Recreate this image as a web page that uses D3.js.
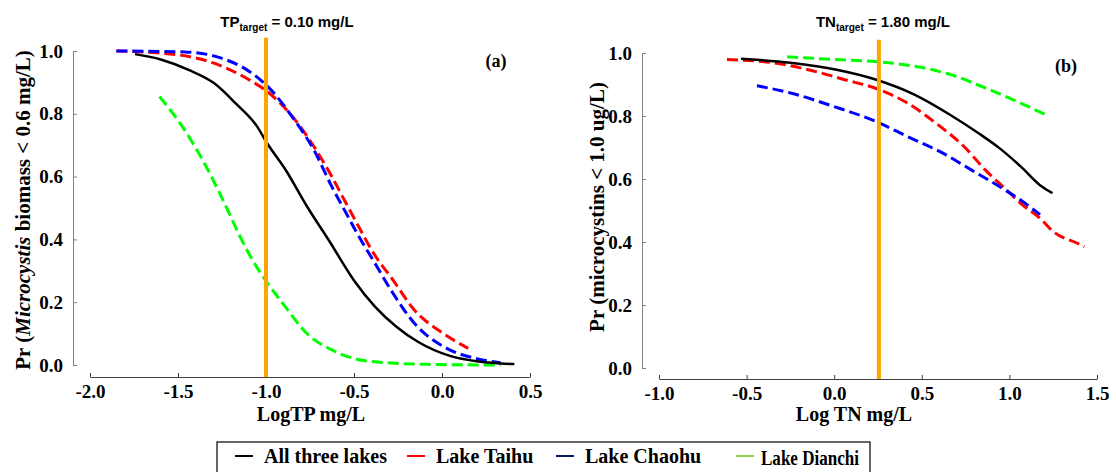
<!DOCTYPE html>
<html lang="en">
<head>
<meta charset="UTF-8">
<title>Probability of meeting targets</title>
<script src="https://d3js.org/d3.v7.min.js"></script>
<style>
    body { margin: 0; background: #fff; }
    svg text { font-family: "Liberation Serif", "Times New Roman", serif; font-weight: bold; fill: #000; }
    .title { font-family: "Liberation Sans", Arial, sans-serif; font-size: 15px; }
</style>
</head>
<body>
<svg id="chart" width="1116" height="472"></svg>
<script>
    // legend entries
    const lakes = ["All three lakes", "Lake Taihu", "Lake Chaohu", "Lake Dianchi"];
    const lineColors = ["#000000", "#ff0000", "#0000ff", "#00ff00"];
    const legendColors = ["#000000", "#ff0000", "#002060", "#92d050"];

    // panel (a): log TP vs Pr(Microcystis biomass < 0.6 mg/L)
    const tpAll = [[-1.744, 0.990], [-1.598, 0.973], [-1.436, 0.939], [-1.294, 0.897], [-1.172, 0.833],
        [-1.050, 0.759], [-0.999, 0.711], [-0.888, 0.621], [-0.766, 0.504], [-0.644, 0.398], [-0.502, 0.271],
        [-0.381, 0.186], [-0.259, 0.122], [-0.137, 0.074], [0.045, 0.029], [0.208, 0.011], [0.411, 0.003]];
    const tpTaihu = [[-1.85, 1.0], [-1.503, 0.988], [-1.30, 0.962], [-1.095, 0.908], [-0.993, 0.871],
        [-0.851, 0.792], [-0.728, 0.696], [-0.626, 0.600], [-0.545, 0.515], [-0.463, 0.430], [-0.401, 0.367],
        [-0.279, 0.271], [-0.157, 0.175], [0.006, 0.101], [0.149, 0.053]];
    const tpChaohu = [[-1.85, 1.0], [-1.463, 0.997], [-1.258, 0.978], [-1.095, 0.935], [-0.973, 0.877],
        [-0.851, 0.790], [-0.728, 0.685], [-0.626, 0.568], [-0.545, 0.484], [-0.483, 0.420], [-0.381, 0.324],
        [-0.279, 0.229], [-0.157, 0.133], [0.027, 0.053], [0.19, 0.021], [0.333, 0.007]];
    const tpDianchi = [[-1.605, 0.855], [-1.463, 0.749], [-1.340, 0.632], [-1.218, 0.494], [-1.157, 0.420],
        [-1.054, 0.313], [-1.004, 0.271], [-0.891, 0.186], [-0.769, 0.101], [-0.626, 0.048], [-0.401, 0.011],
        [-0.075, 0.002], [0.333, 0.0]];

    // panel (b): log TN vs Pr(microcystins < 1.0 ug/L)
    const tnAll = [[-0.532, 0.982], [-0.249, 0.969], [0.014, 0.947], [0.236, 0.916], [0.458, 0.868],
        [0.661, 0.804], [0.822, 0.746], [0.943, 0.698], [1.064, 0.640], [1.185, 0.576], [1.246, 0.555]];
    const tnTaihu = [[-0.612, 0.979], [-0.35, 0.969], [-0.148, 0.947], [0.055, 0.916], [0.256, 0.884],
        [0.418, 0.841], [0.579, 0.778], [0.741, 0.703], [0.862, 0.629], [0.984, 0.565], [1.064, 0.523],
        [1.185, 0.470], [1.246, 0.435], [1.388, 0.396], [1.428, 0.385]];
    const tnChaohu = [[-0.441, 0.896], [-0.249, 0.873], [-0.006, 0.831], [0.236, 0.783], [0.418, 0.735],
        [0.62, 0.682], [0.782, 0.629], [0.943, 0.576], [1.064, 0.533], [1.175, 0.487]];
    const tnDianchi = [[-0.269, 0.988], [0.014, 0.979], [0.256, 0.972], [0.458, 0.958], [0.661, 0.932],
        [0.862, 0.889], [1.064, 0.841], [1.226, 0.799]];

    const yTicks = [0, 0.2, 0.4, 0.6, 0.8, 1.0];
    const tpTicks = [-2.0, -1.5, -1.0, -0.5, 0.0, 0.5];
    const tnTicks = [-1.0, -0.5, 0.0, 0.5, 1.0, 1.5];

    const svg = d3.select("#chart");

    function drawPanel(p) {
        const g = svg.append("g");
        const x = d3.scaleLinear().domain(p.xDomain).range(p.xRange);
        const y = d3.scaleLinear().domain([0, 1]).range(p.yRange);

        // y axis, ticks pointing inward
        const ya = g.append("g")
            .attr("transform", `translate(${p.yAxisX},0)`)
            .call(d3.axisLeft(y).tickValues(yTicks).tickFormat(d3.format(".1f"))
                .tickSizeInner(-4).tickSizeOuter(0).tickPadding(10));
        ya.select(".domain").attr("stroke", "#808080");
        ya.selectAll(".tick line").attr("stroke", "#808080");
        ya.selectAll("text").style("font-size", "19px").attr("fill", "#000");

        // x axis
        const xa = g.append("g")
            .attr("transform", `translate(0,${p.xAxisY})`)
            .call(d3.axisBottom(x).tickValues(p.xTicks).tickFormat(d3.format(".1f"))
                .tickSizeInner(-4).tickSizeOuter(0).tickPadding(8));
        xa.select(".domain").attr("stroke", "#404040");
        xa.selectAll(".tick line").attr("stroke", "#404040");
        xa.selectAll("text").style("font-size", "19px").attr("fill", "#000")
            .text(d => d3.format(".1f")(d).replace("−", "-"));

        const line = d3.line()
            .x(d => x(d[0]))
            .y(d => y(d[1]))
            .curve(d3.curveMonotoneX);

        // dashed lake curves first, pooled curve on top
        [1, 2, 3, 0].forEach(i => {
            g.append("path")
                .datum(p.series[i])
                .attr("fill", "none")
                .attr("stroke", lineColors[i])
                .attr("stroke-width", i === 0 ? 2.5 : 3)
                .attr("stroke-dasharray", i === 0 ? null : "11,5")
                .attr("d", line);
        });

        // target line
        g.append("line")
            .attr("x1", x(p.target)).attr("x2", x(p.target))
            .attr("y1", y(1.042)).attr("y2", p.xAxisY)
            .attr("stroke", "#ffa500")
            .attr("stroke-width", 4);

        // title with subscript
        const t = g.append("text")
            .attr("class", "title")
            .attr("x", p.titleX).attr("y", 27)
            .attr("text-anchor", "middle");
        t.append("tspan").text(p.titleVar);
        t.append("tspan").attr("dy", 4).style("font-size", "10px").text("target");
        t.append("tspan").attr("dy", -4).text(p.titleRest);

        g.append("text")
            .attr("x", p.tagX).attr("y", p.tagY)
            .attr("text-anchor", "middle")
            .style("font-size", "18px")
            .text(p.tag);

        g.append("text")
            .attr("x", p.xLabelX).attr("y", 421)
            .attr("text-anchor", "middle")
            .style("font-size", "20px")
            .text(p.xLabel);

        const yl = g.append("text")
            .attr("transform", `translate(${p.yLabelX},${p.yLabelY}) rotate(-90)`)
            .attr("text-anchor", "middle")
            .style("font-size", "21px");
        p.yLabel.forEach(part => {
            yl.append("tspan").style("font-style", part.italic ? "italic" : null).text(part.text);
        });
    }

    drawPanel({
        xDomain: [-2, 0.5], xRange: [90, 530], yRange: [365, 51],
        yAxisX: 73, xAxisY: 377, xTicks: tpTicks,
        series: [tpAll, tpTaihu, tpChaohu, tpDianchi],
        target: Math.log10(0.10),
        titleX: 287, titleVar: "TP", titleRest: " = 0.10 mg/L",
        tag: "(a)", tagX: 496, tagY: 67,
        xLabel: "LogTP mg/L", xLabelX: 311,
        yLabelX: 30, yLabelY: 210,
        yLabel: [{text: "Pr ("}, {text: "Microcystis", italic: true}, {text: " biomass < 0.6 mg/L)"}]
    });

    drawPanel({
        xDomain: [-1, 1.5], xRange: [659, 1097], yRange: [368, 53],
        yAxisX: 642, xAxisY: 379, xTicks: tnTicks,
        series: [tnAll, tnTaihu, tnChaohu, tnDianchi],
        target: Math.log10(1.80),
        titleX: 883, titleVar: "TN", titleRest: " = 1.80 mg/L",
        tag: "(b)", tagX: 1066, tagY: 72,
        xLabel: "Log TN mg/L", xLabelX: 854,
        yLabelX: 604, yLabelY: 207,
        yLabel: [{text: "Pr (microcystins < 1.0 ug/L)"}]
    });

    // legend
    const legendX = [235, 407, 556, 736];
    const legend = svg.append("g");
    legend.append("rect")
        .attr("x", 217).attr("y", 442)
        .attr("width", 653).attr("height", 40)
        .attr("fill", "none").attr("stroke", "#000").attr("stroke-width", 1.2);
    lakes.forEach((name, i) => {
        const item = legend.append("g").attr("transform", `translate(${legendX[i]},456)`);
        item.append("line")
            .attr("x1", 0).attr("x2", 18)
            .attr("stroke", legendColors[i]).attr("stroke-width", 2);
        const txt = item.append("text")
            .attr("x", i === 3 ? 25 : 29).attr("y", i === 3 ? 9 : 7)
            .style("font-size", "20px")
            .text(name);
        // last entry is squeezed to fit the box
        if (i === 3) txt.attr("textLength", 98).attr("lengthAdjust", "spacingAndGlyphs");
    });
</script>
</body>
</html>
